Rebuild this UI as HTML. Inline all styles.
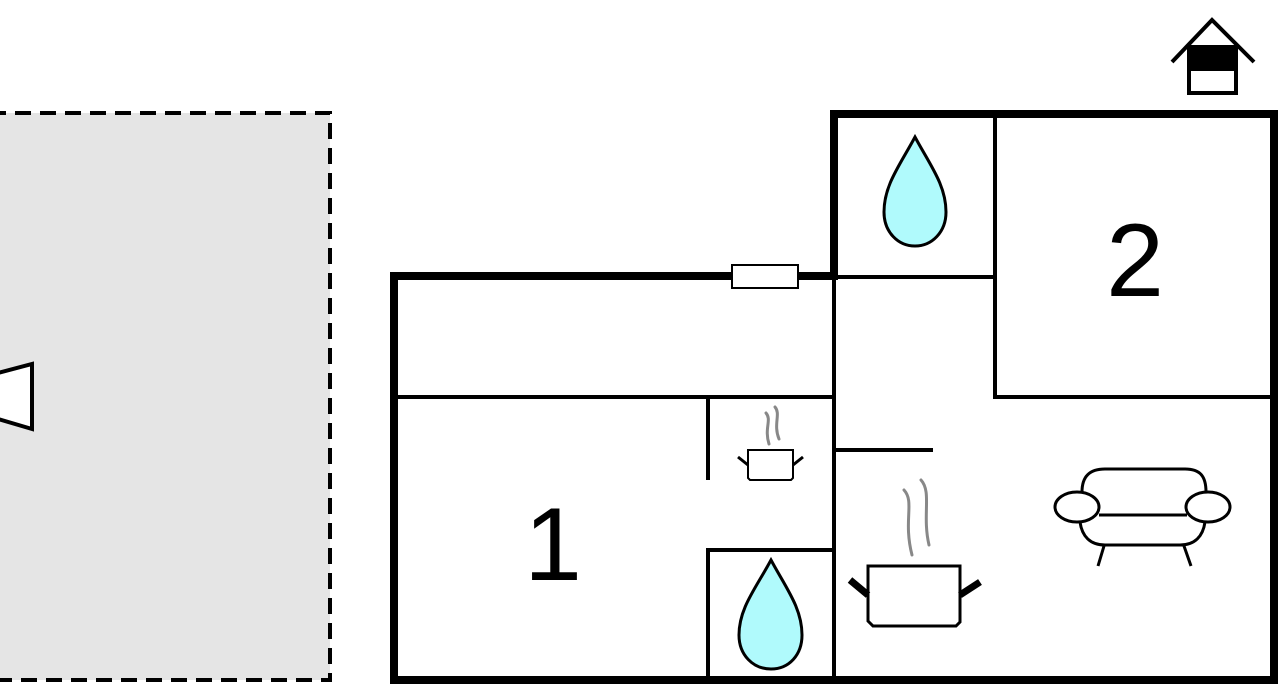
<!DOCTYPE html>
<html><head><style>html,body{margin:0;padding:0;background:#fff;width:1280px;height:689px;overflow:hidden}</style></head>
<body>
<svg width="1280" height="689" viewBox="0 0 1280 689" xmlns="http://www.w3.org/2000/svg">
<rect x="-10" y="113" width="340" height="567" fill="#e5e5e5" stroke="#000" stroke-width="4" stroke-dasharray="16,9"/>
<polygon points="-2,373 32,364 32,429 -2,419" fill="#fff" stroke="#000" stroke-width="4"/>
<g stroke="#000" fill="none" stroke-linecap="square">
<path d="M394,680 V276 H834 V114 H1274 V680 Z" stroke-width="8"/>
<path d="M834,276 V680" stroke-width="4"/>
<path d="M995,114 V397 H1274" stroke-width="4"/>
<path d="M834,277 H995" stroke-width="4"/>
<path d="M398,397 H834" stroke-width="4"/>
<path d="M708,397 V478" stroke-width="4"/>
<path d="M708,680 V550 H834" stroke-width="4"/>
<path d="M834,450 H931" stroke-width="4"/>
</g>
<rect x="732" y="265" width="66" height="23" fill="#fff" stroke="#000" stroke-width="2"/>
<path d="M915,137 C900,165 884,185 884,212 C884,232 898,246 915,246 C932,246 946,232 946,212 C946,185 930,165 915,137 Z" fill="#b0fafc" stroke="#000" stroke-width="3"/>
<path d="M771,560 C756,588 739,608 739,635 C739,655 753,669 771,669 C789,669 802,655 802,635 C802,608 786,588 771,560 Z" fill="#b0fafc" stroke="#000" stroke-width="3"/>
<text x="1135" y="296" font-family="Liberation Sans, sans-serif" font-size="104" text-anchor="middle">2</text>
<text x="553" y="580" font-family="Liberation Sans, sans-serif" font-size="104" text-anchor="middle">1</text>
<g stroke="#888" stroke-width="3" fill="none" stroke-linecap="round">
<path d="M766,413 C772,420 764,428 769,444"/>
<path d="M775,407 C781,414 773,424 779,439"/>
<path d="M904,490 C915,502 903,520 912,555"/>
<path d="M921,480 C932,492 922,515 929,545"/>
</g>
<path d="M748,450 H793 V478 L791,480 H750 L748,478 Z" fill="#fff" stroke="#000" stroke-width="2"/>
<path d="M748,465 L738,457 M793,465 L803,457" stroke="#000" stroke-width="3"/>
<path d="M868,566 H960 V622 L956,626 H873 L868,621 Z" fill="#fff" stroke="#000" stroke-width="3"/>
<path d="M868,595 L850,580 M960,595 L980,582" stroke="#000" stroke-width="7"/>
<g stroke="#000" stroke-width="3" fill="none">
<path d="M1082,492 C1082,476 1090,469 1105,469 H1185 C1200,469 1206,476 1206,492"/>
<path d="M1080,522 C1082,536 1090,545 1105,545 H1180 C1195,545 1203,536 1205,522"/>
<path d="M1099,515 H1187"/>
<ellipse cx="1077" cy="507" rx="22" ry="15" fill="#fff"/>
<ellipse cx="1208" cy="507" rx="22" ry="15" fill="#fff"/>
<path d="M1104,546 L1098,566 M1184,546 L1191,566"/>
</g>
<path d="M1172,62 L1212,20 L1254,62" stroke="#000" stroke-width="4" fill="none"/>
<rect x="1189" y="47" width="47" height="46" fill="#fff" stroke="#000" stroke-width="4"/>
<rect x="1189" y="47" width="47" height="24" fill="#000"/>
</svg>
</body></html>
